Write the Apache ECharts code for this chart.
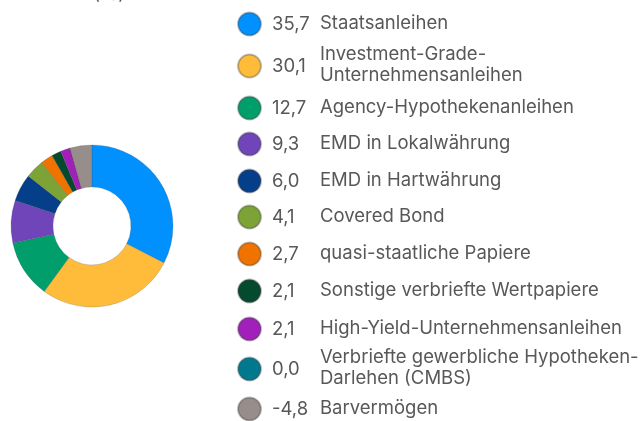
<!DOCTYPE html>
<html>
<head>
<meta charset="utf-8">
<script src="https://cdn.jsdelivr.net/npm/echarts@6/dist/echarts.min.js"></script>
<style>
  html, body { margin: 0; padding: 0; background: #fff; }
  #chart { width: 644px; height: 421px; }
</style>
</head>
<body>
<div id="chart"></div>
<script>
const sectors = [
  'Staatsanleihen',
  'Investment-Grade-\nUnternehmensanleihen',
  'Agency-Hypothekenanleihen',
  'EMD in Lokalwährung',
  'EMD in Hartwährung',
  'Covered Bond',
  'quasi-staatliche Papiere',
  'Sonstige verbriefte Wertpapiere',
  'High-Yield-Unternehmensanleihen',
  'Verbriefte gewerbliche Hypotheken-\nDarlehen (CMBS)',
  'Barvermögen'
]
const weights = [35.7, 30.1, 12.7, 9.3, 6.0, 4.1, 2.7, 2.1, 2.1, 0.0, -4.8]
const colors = [
  '#0091FF', '#FFBC3A', '#009E6B', '#6F45B9', '#053F8A', '#7DA337',
  '#F07300', '#05492F', '#A020B9', '#00798F', '#978D8A'
]

// layout of the legend rows (centre y of each row)
const rowY = [23, 65, 107, 143, 180, 216, 253, 290, 328, 368, 408]
const textColor = '#585858'
const font = 'Inter, "Noto Sans", sans-serif'
const fontSize = 18.5

const fmt = v => v.toFixed(1).replace('.', ',')

const chart = echarts.init(document.getElementById('chart'), null, { renderer: 'canvas' })

chart.setOption({
  animation: false,
  color: colors,
  legend: sectors.map((name, i) => ({
    data: [name],
    left: 237,
    top: rowY[i] - 11.5,
    padding: 0,
    icon: 'circle',
    itemWidth: 23,
    itemHeight: 23,
    selectedMode: false,
    formatter: () => '{v|' + fmt(weights[i]) + '}',
    textStyle: {
      rich: {
        v: { fontFamily: font, fontSize: fontSize, color: textColor, padding: [0, 0, 0, 6] }
      }
    }
  })),
  graphic: [
    {
      type: 'text',
      right: 644 - 125,
      top: -15,
      style: { text: 'Sektoren (%)', font: fontSize + 'px ' + font, fill: textColor }
    },
    ...sectors.map((name, i) => ({
      type: 'text',
      x: 320,
      y: rowY[i],
      style: {
        text: name,
        font: fontSize + 'px ' + font,
        fill: textColor,
        lineHeight: 21,
        verticalAlign: 'middle'
      }
    }))
  ],
  series: [
    {
      type: 'pie',
      center: [92, 226],
      radius: [39, 81],
      startAngle: 90,
      clockwise: true,
      label: { show: false },
      labelLine: { show: false },
      emphasis: { disabled: true },
      itemStyle: {
        borderColor: 'rgba(70, 70, 70, 0.35)',
        borderWidth: 0.6
      },
      data: sectors.map((name, i) => ({ name, value: Math.abs(weights[i]) }))
    }
  ]
})
</script>
</body>
</html>
